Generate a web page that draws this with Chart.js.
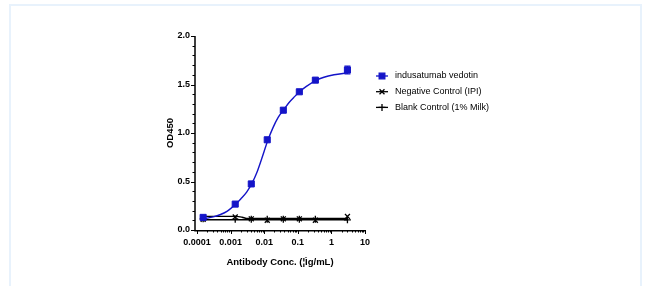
<!DOCTYPE html>
<html>
<head>
<meta charset="utf-8">
<script src="https://cdn.jsdelivr.net/npm/chart.js@4.4.0/dist/chart.umd.min.js"></script>
<style>
  html, body { margin: 0; padding: 0; background: #fff; }
  #wrap { position: relative; width: 645px; height: 286px; }
  #frame { position: absolute; left: 9px; top: 4px; width: 629px; height: 300px;
           border: 2px solid #e8f2fc; border-bottom: none; pointer-events: none; }
</style>
</head>
<body>
<div id="wrap">
  <canvas id="grafico" width="645" height="286"></canvas>
  <div id="frame"></div>
</div>
<script>
// concentrações (µg/mL) e OD450
const concPontos = [0.000152, 0.00137, 0.00412, 0.0123, 0.037, 0.111, 0.333, 3.0];
const odIndusatumab = [0.13, 0.267, 0.475, 0.93, 1.235, 1.425, 1.545, 1.65];
const erroIndusatumab = [0, 0, 0, 0, 0, 0, 0, 0.04];
const odNegativo = [0.11, 0.135, 0.115, 0.10, 0.115, 0.115, 0.10, 0.14];
const odBranco = [0.115, 0.11, 0.11, 0.11, 0.11, 0.11, 0.11, 0.105];

// curvas ajustadas
const curvaX = [0.00015, 0.0002, 0.0003, 0.0005, 0.0008, 0.0014, 0.002, 0.003, 0.0043, 0.006, 0.0085, 0.0127,
                0.018, 0.026, 0.038, 0.055, 0.08, 0.117, 0.18, 0.34, 0.6, 1.2, 3.0];
const curvaY = [0.115, 0.122, 0.135, 0.16, 0.195, 0.265, 0.32, 0.39, 0.48, 0.59, 0.74, 0.92,
                1.05, 1.16, 1.24, 1.315, 1.375, 1.43, 1.48, 1.54, 1.575, 1.60, 1.62];
const curvaNegX = [0.00015, 0.0015, 0.0022, 0.003, 3.0];
const curvaNegY = [0.14, 0.14, 0.132, 0.12, 0.12];
const curvaBrancoX = [0.00015, 3.0];
const curvaBrancoY = [0.105, 0.105];

const ticksX = [0.0001, 0.001, 0.01, 0.1, 1, 10];
const ticksY = [0, 0.5, 1.0, 1.5, 2.0];

const nomes = ['indusatumab vedotin', 'Negative Control (IPI)', 'Blank Control (1% Milk)'];
const AZUL = '#1414c8';

const pares = (xs, ys) => xs.map((x, i) => ({ x: x, y: ys[i] }));

const eixosPlugin = {
  id: 'eixos',
  afterDatasetsDraw(chart) {
    const ctx = chart.ctx;
    const sx = chart.scales.x, sy = chart.scales.y;
    const x0 = sx.left, x1 = sx.right, y0 = sy.bottom, y1 = sy.top;
    ctx.save();

    // barras de erro
    ctx.strokeStyle = AZUL;
    ctx.lineWidth = 1.2;
    concPontos.forEach((c, i) => {
      if (!erroIndusatumab[i]) return;
      const px = sx.getPixelForValue(c);
      const pTop = sy.getPixelForValue(odIndusatumab[i] + erroIndusatumab[i]);
      const pBot = sy.getPixelForValue(odIndusatumab[i] - erroIndusatumab[i]);
      ctx.beginPath();
      ctx.moveTo(px, pTop); ctx.lineTo(px, pBot);
      ctx.moveTo(px - 3, pTop); ctx.lineTo(px + 3, pTop);
      ctx.moveTo(px - 3, pBot); ctx.lineTo(px + 3, pBot);
      ctx.stroke();
    });

    // linhas dos eixos
    ctx.strokeStyle = '#000';
    ctx.lineWidth = 1.5;
    ctx.beginPath();
    ctx.moveTo(x0, y1); ctx.lineTo(x0, y0 + 0.75); ctx.lineTo(x1, y0 + 0.75);
    ctx.stroke();

    // ticks Y (0.1 em 0.1)
    ctx.lineWidth = 1;
    for (let k = 0; k <= 20; k++) {
      const py = Math.round(sy.getPixelForValue(k / 10)) + 0.5;
      const len = k % 5 === 0 ? 4 : 2.5;
      ctx.beginPath();
      ctx.moveTo(x0, py); ctx.lineTo(x0 - len, py);
      ctx.stroke();
    }
    // ticks X (log)
    for (let d = -4; d <= 1; d++) {
      for (let m = 1; m <= 9; m++) {
        const v = m * Math.pow(10, d);
        if (v > 10.0001) continue;
        const px = Math.round(sx.getPixelForValue(v)) + 0.5;
        const len = m === 1 ? 4 : 2.5;
        ctx.beginPath();
        ctx.moveTo(px, y0); ctx.lineTo(px, y0 + len);
        ctx.stroke();
      }
    }

    // títulos dos eixos
    ctx.fillStyle = '#000';
    ctx.font = 'bold 9.5px "Liberation Sans", Arial, sans-serif';
    ctx.textAlign = 'center';
    ctx.textBaseline = 'middle';
    ctx.fillText('Antibody Conc. (¦Ìg/mL)', (x0 + x1) / 2, 262);
    ctx.save();
    ctx.translate(170, (y0 + y1) / 2);
    ctx.rotate(-Math.PI / 2);
    ctx.fillText('OD450', 0, 0);
    ctx.restore();

    // legenda
    const estilos = [
      { cor: AZUL, ponto: 'rect', raio: 4 },
      { cor: '#000', ponto: 'crossRot', raio: 3.5 },
      { cor: '#000', ponto: 'cross', raio: 3.5 }
    ];
    ctx.font = '9px "Liberation Sans", Arial, sans-serif';
    ctx.textAlign = 'left';
    nomes.forEach((nome, i) => {
      const ly = 76 + i * 15.7;
      const e = estilos[i];
      ctx.strokeStyle = e.cor;
      ctx.fillStyle = e.cor;
      ctx.lineWidth = 1.3;
      ctx.beginPath();
      ctx.moveTo(376, ly); ctx.lineTo(388, ly);
      ctx.stroke();
      Chart.helpers.drawPoint(ctx, { pointStyle: e.ponto, radius: e.raio, borderWidth: 1.3 }, 382, ly);
      ctx.fillStyle = '#000';
      ctx.fillText(nome, 395, ly);
    });
    ctx.restore();
  }
};

new Chart(document.getElementById('grafico'), {
  type: 'line',
  data: {
    datasets: [
      {
        label: nomes[0],
        data: pares(concPontos, odIndusatumab),
        showLine: false,
        pointStyle: 'rect',
        pointRadius: 4.3,
        backgroundColor: AZUL,
        borderColor: AZUL,
        borderWidth: 1,
        order: 0
      },
      {
        label: 'fit1',
        data: pares(curvaX, curvaY),
        borderColor: AZUL,
        borderWidth: 1.4,
        pointRadius: 0,
        cubicInterpolationMode: 'monotone',
        order: 1
      },
      {
        label: nomes[1],
        data: pares(concPontos, odNegativo),
        showLine: false,
        pointStyle: 'crossRot',
        pointRadius: 3.5,
        borderColor: '#000',
        borderWidth: 1.3,
        order: 2
      },
      {
        label: 'fit2',
        data: pares(curvaNegX, curvaNegY),
        borderColor: '#000',
        borderWidth: 1.4,
        pointRadius: 0,
        cubicInterpolationMode: 'monotone',
        order: 3
      },
      {
        label: nomes[2],
        data: pares(concPontos, odBranco),
        showLine: false,
        pointStyle: 'cross',
        pointRadius: 3.5,
        borderColor: '#000',
        borderWidth: 1.3,
        order: 4
      },
      {
        label: 'fit3',
        data: pares(curvaBrancoX, curvaBrancoY),
        borderColor: '#000',
        borderWidth: 1.4,
        pointRadius: 0,
        order: 5
      }
    ]
  },
  options: {
    responsive: false,
    animation: false,
    layout: { padding: { left: 165, right: 280, top: 36, bottom: 26 } },
    plugins: { legend: { display: false }, tooltip: { enabled: false } },
    scales: {
      x: {
        type: 'logarithmic',
        min: 0.000087,
        max: 10,
        grid: { display: false, drawTicks: false },
        border: { display: false },
        afterBuildTicks: s => { s.ticks = ticksX.map(v => ({ value: v })); },
        afterFit: s => { s.height = 30; },
        ticks: {
          autoSkip: false,
          maxRotation: 0,
          padding: 7,
          color: '#000',
          font: { family: '"Liberation Sans", Arial, sans-serif', size: 9, weight: 'bold' },
          callback: v => String(v)
        }
      },
      y: {
        min: 0,
        max: 2,
        grid: { display: false, drawTicks: false },
        border: { display: false },
        afterBuildTicks: s => { s.ticks = ticksY.map(v => ({ value: v })); },
        afterFit: s => { s.width = 30; },
        ticks: {
          padding: 5,
          color: '#000',
          font: { family: '"Liberation Sans", Arial, sans-serif', size: 9, weight: 'bold' },
          callback: v => Number(v).toFixed(1)
        }
      }
    }
  },
  plugins: [eixosPlugin]
});
</script>
</body>
</html>
